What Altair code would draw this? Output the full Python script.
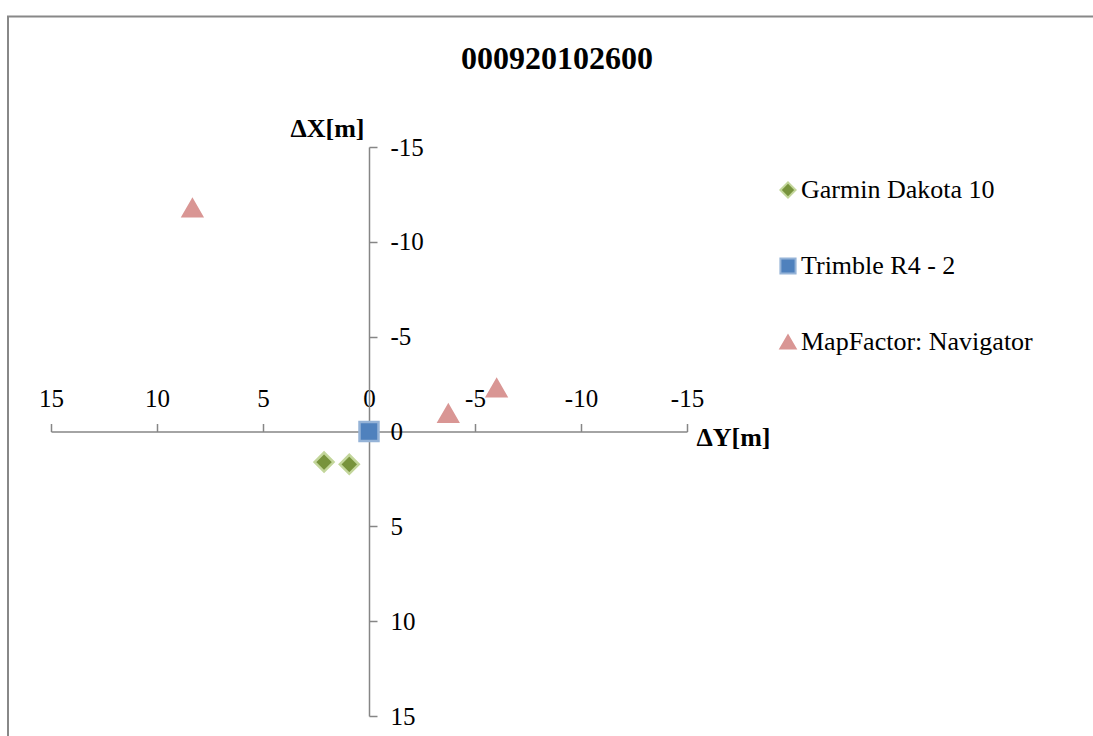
import altair as alt
import pandas as pd

# ---- data ----
series_names = ["Garmin Dakota 10", "Trimble R4 - 2", "MapFactor: Navigator"]
garmin_dy = [2.12, 0.93]
garmin_dx = [1.61, 1.73]
trimble_dy = [0.0]
trimble_dx = [0.0]
mapfactor_dy = [8.33, -3.74, -6.02]
mapfactor_dx = [-11.78, -0.95, -2.29]
tick_values = [-15, -10, -5, 0, 5, 10, 15]

fill_colors = ["#77933C", "#4F81BD", "#D99694"]
stroke_colors = ["#C3D69B", "#95B3D7", "#D99694"]
shapes = ["diamond", "square", "triangle-up"]

rows = []
for name, dys, dxs in [
    (series_names[0], garmin_dy, garmin_dx),
    (series_names[1], trimble_dy, trimble_dx),
    (series_names[2], mapfactor_dy, mapfactor_dx),
]:
    for a, b in zip(dys, dxs):
        rows.append({"series": name, "dY": a, "dX": b})
df = pd.DataFrame(rows)

W, H = 636, 569
FONT = "Liberation Serif"
AXIS_GRAY = "#868686"
LABEL_EXPR = "'' + datum.value"

x_scale = alt.Scale(domain=[-15, 15], reverse=True, nice=False, zero=False)
y_scale = alt.Scale(domain=[-15, 15], reverse=True, nice=False, zero=False)

points = alt.Chart(df).mark_point(filled=True, size=360, strokeWidth=2.5, opacity=1).encode(
    x=alt.X("dY:Q", scale=x_scale,
            axis=alt.Axis(orient="top", offset=-H / 2, values=tick_values, grid=False,
                          title="ΔY[m]", titleFont=FONT, titleFontSize=26, titleFontWeight="bold",
                          titleColor="black", titleX=682, titleY=6, titleAlign="center",
                          titleBaseline="middle", titleAngle=0,
                          labelFont=FONT, labelFontSize=25, labelColor="black",
                          labelExpr=LABEL_EXPR,
                          labelPadding=12, tickSize=8, tickColor=AXIS_GRAY, tickWidth=1.5,
                          domainColor=AXIS_GRAY, domainWidth=1.5, labelFlush=False,
                          labelOverlap=False)),
    y=alt.Y("dX:Q", scale=y_scale,
            axis=alt.Axis(orient="right", offset=-W / 2, values=tick_values, grid=False,
                          title="ΔX[m]", titleFont=FONT, titleFontSize=26, titleFontWeight="bold",
                          titleColor="black", titleX=-42, titleY=-19, titleAlign="center",
                          titleBaseline="middle", titleAngle=0,
                          labelFont=FONT, labelFontSize=25, labelColor="black",
                          labelExpr=LABEL_EXPR,
                          labelPadding=13, tickSize=8, tickColor=AXIS_GRAY, tickWidth=1.5,
                          domainColor=AXIS_GRAY, domainWidth=1.5, labelFlush=False,
                          labelOverlap=False)),
    color=alt.Color("series:N", scale=alt.Scale(domain=series_names, range=fill_colors),
                    legend=alt.Legend(title=None, orient="none", legendX=724, legendY=30,
                                      labelFont=FONT, labelFontSize=26, labelColor="black",
                                      labelLimit=500,
                                      symbolSize=230, labelOffset=0, rowPadding=50,
                                      symbolStrokeWidth=2)),
    stroke=alt.Stroke("series:N", scale=alt.Scale(domain=series_names, range=stroke_colors)),
    shape=alt.Shape("series:N", scale=alt.Scale(domain=series_names, range=shapes)),
)

border = alt.Chart(pd.DataFrame({"k": [0]})).mark_rect(
    fill=None, stroke="#888888", strokeWidth=2
).encode(
    x=alt.value(-43), x2=alt.value(1200), y=alt.value(-130.5), y2=alt.value(800)
)

chart = alt.layer(border, points).properties(
    width=W, height=H,
    title=alt.Title("000920102600", font=FONT, fontSize=32, fontWeight="bold", color="black",
                    anchor="middle", dx=188, offset=0, baseline="alphabetic", dy=85),
    autosize=alt.AutoSizeParams(type="none"),
    padding={"left": 51, "top": 147, "right": 406, "bottom": 20},
    background="white",
).configure_view(strokeWidth=0)

chart.save("out.html", embed_options={"renderer": "svg", "actions": False})
